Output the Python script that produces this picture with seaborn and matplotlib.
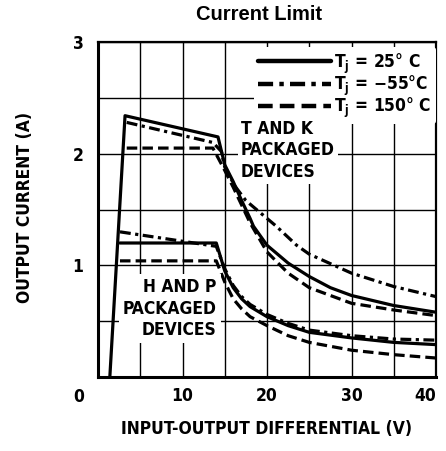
import matplotlib
matplotlib.use("Agg")
import matplotlib.pyplot as plt
import pandas as pd
import seaborn as sns

# ---------------- data ----------------
LBL_25 = "T$_\\mathregular{j}$ = 25° C"
LBL_M55 = "T$_\\mathregular{j}$ = \u221255°C"
LBL_150 = "T$_\\mathregular{j}$ = 150° C"
temps = [LBL_25, LBL_M55, LBL_150]

# T and K packaged devices
tk_25_v = [1.4, 3.2, 14.2, 15.0, 16.0, 17.0, 18.0, 18.4, 20.0, 22.5, 25.0, 27.5, 30.0, 35.0, 40.0]
tk_25_i = [0.0, 2.34, 2.15, 1.90, 1.75, 1.58, 1.42, 1.35, 1.18, 1.02, 0.90, 0.80, 0.73, 0.64, 0.58]
tk_m55_v = [3.4, 13.6, 14.6, 15.0, 16.2, 17.5, 20.0, 21.1, 23.5, 25.0, 30.0, 35.0, 40.0]
tk_m55_i = [2.28, 2.10, 2.02, 1.88, 1.71, 1.58, 1.42, 1.35, 1.18, 1.10, 0.93, 0.81, 0.72]
tk_150_v = [3.4, 13.6, 15.0, 16.0, 17.0, 18.0, 20.0, 22.5, 25.0, 30.0, 35.0, 40.0]
tk_150_i = [2.05, 2.05, 1.85, 1.70, 1.54, 1.38, 1.12, 0.93, 0.80, 0.66, 0.60, 0.55]

# H and P packaged devices
hp_25_v = [2.6, 14.0, 15.0, 16.0, 17.0, 18.0, 20.0, 22.5, 25.0, 30.0, 35.0, 40.0]
hp_25_i = [1.20, 1.20, 0.95, 0.80, 0.70, 0.63, 0.54, 0.46, 0.40, 0.35, 0.31, 0.29]
hp_m55_v = [2.6, 14.0, 15.0, 16.0, 17.0, 18.0, 20.0, 22.5, 25.0, 30.0, 35.0, 40.0]
hp_m55_i = [1.30, 1.17, 0.97, 0.82, 0.72, 0.65, 0.56, 0.48, 0.42, 0.37, 0.34, 0.33]
hp_150_v = [2.6, 14.0, 15.0, 16.0, 17.0, 18.0, 20.0, 22.5, 25.0, 30.0, 35.0, 40.0]
hp_150_i = [1.04, 1.04, 0.85, 0.70, 0.61, 0.54, 0.46, 0.37, 0.31, 0.24, 0.20, 0.17]

x_tick_vals = [10, 20, 30, 40]
y_tick_vals = [1, 2, 3]

series = [
    ("TK", LBL_25, tk_25_v, tk_25_i),
    ("TK", LBL_M55, tk_m55_v, tk_m55_i),
    ("TK", LBL_150, tk_150_v, tk_150_i),
    ("HP", LBL_25, hp_25_v, hp_25_i),
    ("HP", LBL_M55, hp_m55_v, hp_m55_i),
    ("HP", LBL_150, hp_150_v, hp_150_i),
]
rows = []
for pkg, t, vs, cs in series:
    for v, c in zip(vs, cs):
        rows.append({"curve": pkg + t, "temp": t, "V": v, "I": c})
df = pd.DataFrame(rows)

# ---------------- style ----------------
sns.set_style("white")
plt.rcParams["font.family"] = ["DejaVu Sans"]
plt.rcParams["font.stretch"] = "condensed"
plt.rcParams["font.weight"] = "bold"
plt.rcParams["mathtext.default"] = "regular"
for k in ["text.color", "axes.labelcolor", "xtick.color", "ytick.color"]:
    plt.rcParams[k] = "black"
FS = 12.5

fig = plt.figure(figsize=(4.46, 4.51), dpi=100)
W, H = 446, 451
L, R, T, B = 98, 436, 42, 377
ax = fig.add_axes([L / W, 1 - B / H, (R - L) / W, (B - T) / H])

sns.lineplot(
    data=df, x="V", y="I", style="temp", units="curve", estimator=None,
    style_order=temps, sort=False, color="black", lw=2.3,
    dashes={LBL_25: "", LBL_M55: (3.4, 1.4, 1.0, 1.4), LBL_150: (3.3, 1.6)},
    ax=ax, legend=True,
)

ax.set_xlim(0, 40)
ax.set_ylim(0, 3)
ax.set_xticks(range(0, 41, 5))
ax.set_xticklabels([str(v) if v in x_tick_vals else "" for v in range(0, 41, 5)])
ax.set_yticks([k * 0.5 for k in range(7)])
ax.set_yticklabels([str(int(v)) if v in y_tick_vals else "" for v in [k * 0.5 for k in range(7)]])
ax.grid(True, color="black", lw=1.0)
ax.tick_params(length=0, labelsize=FS, colors="black")
ax.tick_params(axis="y", pad=10.5)
ax.tick_params(axis="x", pad=7.5)
for lab in ax.get_xticklabels() + ax.get_yticklabels():
    lab.set_fontweight("bold")
ax.get_xticklabels()[-1].set_ha("right")

for side, lw in [("left", 2.2), ("bottom", 2.2), ("top", 1.6), ("right", 1.6)]:
    ax.spines[side].set_color("black")
    ax.spines[side].set_linewidth(lw)
    ax.spines[side].set_zorder(5)

ax.set_xlabel("INPUT-OUTPUT DIFFERENTIAL (V)", fontsize=FS, fontweight="bold", color="black")
ax.set_ylabel("OUTPUT CURRENT (A)", fontsize=FS, fontweight="bold", color="black")
ax.xaxis.set_label_coords(0.5, (B - 429) / (B - T))
ax.xaxis.label.set_va("center")
ax.yaxis.set_label_coords((25 - L) / (R - L), (B - 207) / (B - T))
ax.yaxis.label.set_va("center")

fig.text(79 / W, 1 - 397 / H, "0", ha="center", va="center", fontsize=FS, fontweight="bold")
fig.text(259 / W, 1 - 15 / H, "Current Limit", ha="center", va="center",
         fontsize=14.5, fontweight="bold", family="Liberation Sans", stretch="normal")

box = dict(facecolor="white", edgecolor="none", pad=2)
ax.text(16.9, 2.03, "T AND K\nPACKAGED\nDEVICES", ha="left", va="center",
        fontsize=FS, fontweight="bold", linespacing=1.25, bbox=box, zorder=7)
ax.text(14.05, 0.613, "H AND P\nPACKAGED\nDEVICES", ha="right", va="center",
        multialignment="right", fontsize=FS, fontweight="bold", linespacing=1.25,
        bbox=dict(facecolor="white", edgecolor="none", pad=3), zorder=4)

sns.move_legend(
    ax, "upper right", bbox_to_anchor=(1.0, 0.985), title=None, frameon=True,
    fontsize=FS, handlelength=4.2, handletextpad=0.2, labelspacing=-0.12,
    borderaxespad=0.0, borderpad=0.25, framealpha=1.0,
)
leg = ax.get_legend()
leg.get_frame().set_edgecolor("none")
leg.get_frame().set_facecolor("white")
leg.set_zorder(6)
for t in leg.get_texts():
    t.set_fontweight("bold")
    t.set_color("black")
for ln in leg.get_lines():
    ln.set_linewidth(3.2)

fig.savefig("out.png", dpi=100)
